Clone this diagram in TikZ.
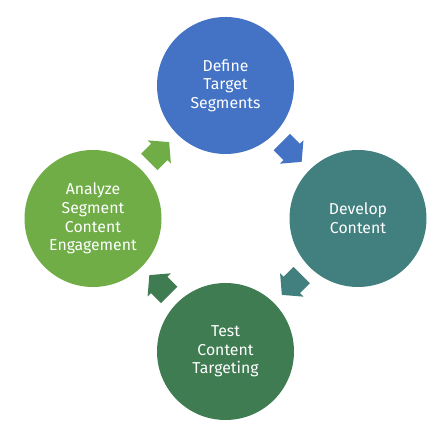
\documentclass[tikz,border=0pt]{standalone}
\usepackage{fontspec}
\setmainfont{Fira Sans}
\usetikzlibrary{calc}
\definecolor{cblue}{RGB}{68,114,196}
\definecolor{cteal}{RGB}{65,128,126}
\definecolor{cdgreen}{RGB}{63,124,82}
\definecolor{clgreen}{RGB}{112,173,71}
\tikzset{
  stage/.style={circle, minimum size=137pt, inner sep=0pt, text=white, align=center,
    font=\fontsize{15.8}{18.7}\selectfont},
  blockarrow/.pic={\fill[pic actions] (-14,-11.5) -- (0,-11.5) -- (0,-16.5) -- (14,0) -- (0,16.5) -- (0,11.5) -- (-14,11.5) -- cycle;}
}
\begin{document}
\begin{tikzpicture}[x=1pt,y=1pt]
\useasboundingbox (0,0) rectangle (447,443);
\node[stage, fill=cblue] (top) at (225.5,357.5) {Define\\Target\\Segments};
\node[stage, fill=cteal] (right) at (358,224.5) {Develop\\Content};
\node[stage, fill=cdgreen] (bottom) at (225.5,91.5) {Test\\Content\\Targeting};
\node[stage, fill=clgreen] (left) at (93,224.5) {Analyze\\Segment\\Content\\Engagement};
\pic[fill=cblue, rotate=-45] at ($(top.center)!0.5!(right.center)$) {blockarrow};
\pic[fill=cteal, rotate=-135] at ($(right.center)!0.5!(bottom.center)$) {blockarrow};
\pic[fill=cdgreen, rotate=135] at ($(bottom.center)!0.5!(left.center)$) {blockarrow};
\pic[fill=clgreen, rotate=45] at ($(left.center)!0.5!(top.center)$) {blockarrow};
\end{tikzpicture}
\end{document}
